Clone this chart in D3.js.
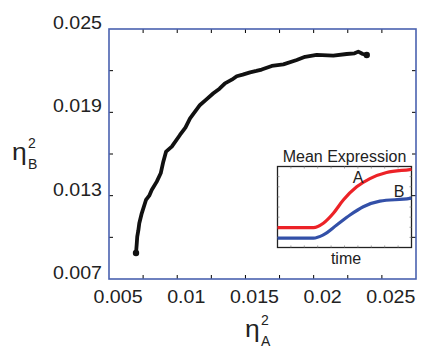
<!DOCTYPE html>
<html>
<head>
<meta charset="utf-8">
<script src="https://cdn.jsdelivr.net/npm/d3@7"></script>
<style>
  body { margin: 0; background: #fff; }
  svg { display: block; font-family: "Liberation Sans", Arial, sans-serif; }
</style>
</head>
<body>
<svg id="chart" width="421" height="350"></svg>
<script>
// noise strength of gene A vs gene B
const etaA = [0.00698, 0.00703, 0.00707, 0.00715, 0.00722, 0.00740, 0.00771, 0.00795, 0.00813, 0.00850,
  0.00879, 0.00898, 0.00918, 0.00960, 0.01020, 0.01060, 0.01094, 0.01167, 0.01210, 0.01265, 0.01310,
  0.01350, 0.01400, 0.01436, 0.01480, 0.01534, 0.01580, 0.01619, 0.01693, 0.01778, 0.01876, 0.01937,
  0.02022, 0.02144, 0.02242, 0.02300, 0.02327, 0.02360, 0.02389];
const etaB = [0.00887, 0.00950, 0.01005, 0.01050, 0.01101, 0.01173, 0.01269, 0.01300, 0.01341, 0.01401,
  0.01461, 0.01545, 0.01617, 0.01653, 0.01737, 0.01790, 0.01857, 0.01953, 0.01990, 0.02037, 0.02070,
  0.02109, 0.02135, 0.02160, 0.02172, 0.02188, 0.02198, 0.02208, 0.02234, 0.02245, 0.02277, 0.02300,
  0.02313, 0.02308, 0.02320, 0.02325, 0.02337, 0.02320, 0.02313];

const xLabels = [0.005, 0.01, 0.015, 0.02, 0.025];
const yLabels = [0.007, 0.013, 0.019, 0.025];

// inset: mean expression over time
const timePts = [0, 1, 2, 2.68, 3.42, 4.17, 4.91, 5.91, 6.90, 8.14, 9.87, 10];
const exprA = [0.246, 0.246, 0.246, 0.246, 0.30, 0.423, 0.586, 0.749, 0.851, 0.925, 0.962, 0.965];
const timeB = [0, 1, 2, 2.68, 3.42, 4.42, 5.41, 6.40, 7.64, 9.87, 10];
const exprB = [0.115, 0.115, 0.115, 0.115, 0.156, 0.278, 0.401, 0.503, 0.573, 0.606, 0.610];

const svg = d3.select('#chart');
const box = { left: 109, top: 29, right: 416, bottom: 279 };
const axisBlue = '#4a62b0';

const x = d3.scaleLinear().domain([0.005, 0.0275]).range([box.left, box.right]);
const y = d3.scaleLinear().domain([0.007, 0.025]).range([box.bottom, box.top]);

// inward tick marks on all four sides
const xTicks = d3.range(0.0075, 0.0274, 0.0025);
const yTicks = d3.range(0.010, 0.0249, 0.003);
const ticks = svg.append('g').attr('stroke', '#000').attr('stroke-width', 1);
xTicks.forEach(v => {
  ticks.append('line').attr('x1', x(v)).attr('x2', x(v)).attr('y1', box.bottom).attr('y2', box.bottom - 4);
  ticks.append('line').attr('x1', x(v)).attr('x2', x(v)).attr('y1', box.top).attr('y2', box.top + 4);
});
yTicks.forEach(v => {
  ticks.append('line').attr('y1', y(v)).attr('y2', y(v)).attr('x1', box.left).attr('x2', box.left + 4);
  ticks.append('line').attr('y1', y(v)).attr('y2', y(v)).attr('x1', box.right).attr('x2', box.right - 4);
});

svg.append('rect')
  .attr('x', box.left).attr('y', box.top)
  .attr('width', box.right - box.left).attr('height', box.bottom - box.top)
  .attr('fill', 'none').attr('stroke', axisBlue).attr('stroke-width', 1.6);

// tick labels (slightly stretched like the source figure)
const fmt = v => String(v);
svg.append('g').selectAll('text').data(xLabels).enter().append('text')
  .attr('transform', d => `translate(${x(d) + 9},303) scale(1.09,1)`)
  .attr('text-anchor', 'middle').attr('font-size', 18).attr('fill', '#222')
  .text(fmt);
svg.append('g').selectAll('text').data(yLabels).enter().append('text')
  .attr('transform', d => `translate(102,${y(d)}) scale(1.09,1)`)
  .attr('text-anchor', 'end').attr('font-size', 18).attr('fill', '#222')
  .text(fmt);

// axis titles
function etaLabel(px, py, sub) {
  const g = svg.append('g').attr('fill', '#222');
  g.append('text').attr('transform', `translate(${px},${py}) scale(1.15,1)`).attr('font-size', 23).text('η');
  g.append('text').attr('x', px + 16).attr('y', py - 12).attr('font-size', 14).text('2');
  g.append('text').attr('x', px + 16).attr('y', py + 9).attr('font-size', 14).text(sub);
}
etaLabel(245, 337, 'A');
etaLabel(12, 160, 'B');

// main curve
const pts = etaA.map((d, i) => [d, etaB[i]]);
svg.append('path')
  .datum(pts)
  .attr('fill', 'none').attr('stroke', '#111').attr('stroke-width', 3.8)
  .attr('stroke-linejoin', 'round').attr('stroke-linecap', 'round')
  .attr('d', d3.line().x(d => x(d[0])).y(d => y(d[1])));
svg.append('g').selectAll('circle').data([pts[0], pts[pts.length - 1]]).enter().append('circle')
  .attr('cx', d => x(d[0])).attr('cy', d => y(d[1])).attr('r', 3.2).attr('fill', '#111');

// inset
const inset = { left: 277.5, top: 166.5, right: 411.5, bottom: 247.5 };
const ix = d3.scaleLinear().domain([0, 10]).range([inset.left, inset.right]);
const iy = d3.scaleLinear().domain([0, 1]).range([inset.bottom, inset.top]);

svg.append('rect')
  .attr('x', inset.left).attr('y', inset.top)
  .attr('width', inset.right - inset.left).attr('height', inset.bottom - inset.top)
  .attr('fill', '#fff').attr('stroke', '#222').attr('stroke-width', 1.3);

const iticks = svg.append('g').attr('stroke', '#888').attr('stroke-width', 0.8);
d3.range(1, 10).forEach(t => {
  iticks.append('line').attr('x1', ix(t)).attr('x2', ix(t)).attr('y1', inset.bottom).attr('y2', inset.bottom - 2);
  iticks.append('line').attr('x1', ix(t)).attr('x2', ix(t)).attr('y1', inset.top).attr('y2', inset.top + 2);
});
d3.range(1, 8).forEach(k => {
  const v = k / 8;
  iticks.append('line').attr('y1', iy(v)).attr('y2', iy(v)).attr('x1', inset.left).attr('x2', inset.left + 2);
  iticks.append('line').attr('y1', iy(v)).attr('y2', iy(v)).attr('x1', inset.right).attr('x2', inset.right - 2);
});

const iline = d3.line().curve(d3.curveMonotoneX).x(d => ix(d[0])).y(d => iy(d[1]));
svg.append('path').datum(timeB.map((t, i) => [t, exprB[i]]))
  .attr('fill', 'none').attr('stroke', '#3350a8').attr('stroke-width', 3.2).attr('d', iline);
svg.append('path').datum(timePts.map((t, i) => [t, exprA[i]]))
  .attr('fill', 'none').attr('stroke', '#ec2227').attr('stroke-width', 3.2).attr('d', iline);

svg.append('text').attr('x', (inset.left + inset.right) / 2).attr('y', 162)
  .attr('text-anchor', 'middle').attr('font-size', 16).attr('fill', '#222').text('Mean Expression');
svg.append('text').attr('x', 346).attr('y', 264)
  .attr('text-anchor', 'middle').attr('font-size', 16).attr('fill', '#222').text('time');
svg.append('text').attr('x', 358).attr('y', 183)
  .attr('text-anchor', 'middle').attr('font-size', 16).attr('fill', '#222').text('A');
svg.append('text').attr('x', 399).attr('y', 197)
  .attr('text-anchor', 'middle').attr('font-size', 16).attr('fill', '#222').text('B');
</script>
</body>
</html>
